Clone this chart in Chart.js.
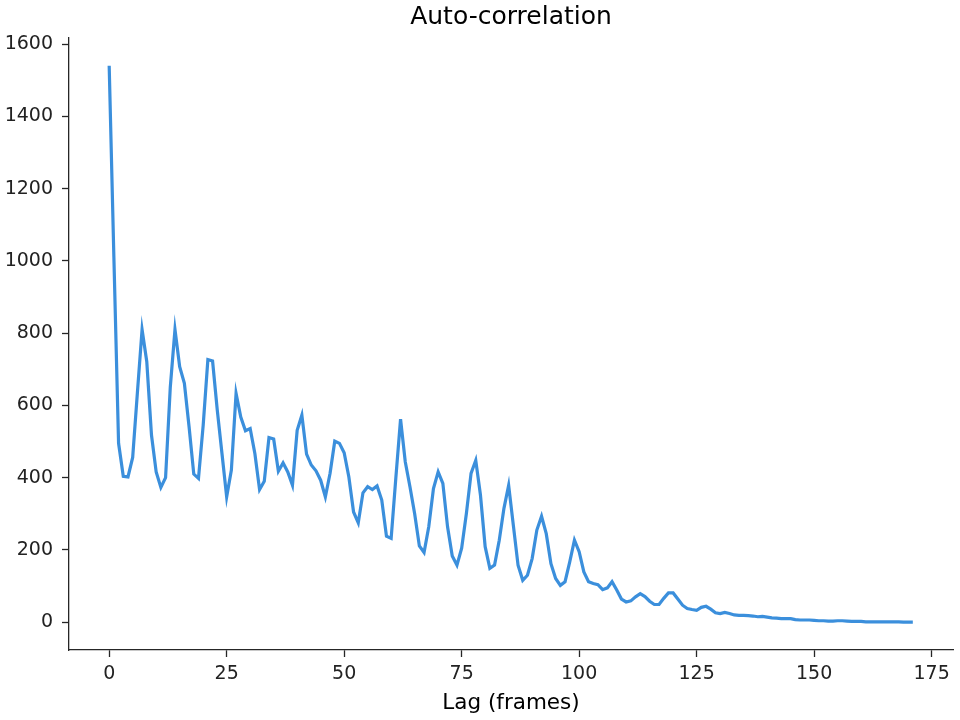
<!DOCTYPE html>
<html>
<head>
<meta charset="utf-8">
<script src="https://cdn.jsdelivr.net/npm/chart.js@4"></script>
<style>
  html, body { margin: 0; padding: 0; background: #fff; }
  #wrap { width: 960px; height: 720px; }
</style>
</head>
<body>
<div id="wrap"><canvas id="acfChart" width="960" height="720"></canvas></div>
<script>
// auto-correlation per lag (lag 0..171)
const acfValues = [
  1540, 1010, 495, 404, 402, 456, 635, 810, 721, 518,
  416, 373, 400, 650, 810, 707, 661, 541, 410, 398,
  545, 727, 723, 587, 467, 347, 421, 633, 568, 530,
  536, 467, 367, 390, 511, 507, 418, 441, 416, 379,
  531, 573, 465, 435, 419, 393, 347, 412, 501, 495,
  469, 402, 305, 275, 358, 375, 367, 377, 338, 238,
  232, 400, 562, 444, 375, 300, 211, 193, 264, 370,
  416, 384, 264, 183, 158, 205, 300, 412, 448, 352,
  209, 149, 158, 227, 315, 379, 268, 158, 116, 130,
  176, 255, 293, 245, 162, 121, 102, 112, 167, 227,
  195, 139, 112, 107, 104, 90, 95, 112, 89, 64,
  56, 59, 70, 79, 71, 58, 49, 49, 66, 81,
  81, 64, 47, 38, 35, 33, 41, 44, 36, 26,
  24, 27, 24, 20, 19, 19, 18, 17, 15, 16,
  14, 12, 11, 10, 10, 10, 7, 6, 6, 6,
  5, 4, 4, 3, 3, 4, 4, 3, 2, 2,
  2, 1, 1, 1, 1, 1, 1, 1, 1, 0,
  0, 0
];
const lags = acfValues.map((v, i) => i);

const xTickValues = [0, 25, 50, 75, 100, 125, 150, 175];
const yTickValues = [0, 200, 400, 600, 800, 1000, 1200, 1400, 1600];

const titleText = "Auto-correlation";
const xLabelText = "Lag (frames)";

const axisColor = "#262626";
const lineColor = "#3b8fdc";
const fontFamily = "'DejaVu Sans', sans-serif";

const points = lags.map((lag, i) => ({ x: lag, y: acfValues[i] }));

// 5% margins like the original
const xSpan = lags[lags.length - 1] - lags[0];
const ySpan = Math.max(...acfValues) - Math.min(...acfValues);

// title centred over the plot area, not the whole canvas
const axesTitle = {
  id: "axesTitle",
  afterDraw(chart) {
    const c = chart.ctx;
    const area = chart.chartArea;
    c.save();
    c.fillStyle = "#000";
    c.font = "25px " + fontFamily;
    c.textAlign = "center";
    c.textBaseline = "middle";
    c.fillText(titleText, (area.left + area.right) / 2, 17);
    c.restore();
  }
};

const ctx = document.getElementById("acfChart").getContext("2d");

new Chart(ctx, {
  type: "line",
  data: {
    datasets: [{
      label: "acf",
      data: points,
      borderColor: lineColor,
      borderWidth: 3.2,
      pointRadius: 0,
      tension: 0,
      fill: false
    }]
  },
  options: {
    responsive: false,
    animation: false,
    layout: { padding: { left: 0, right: 7, top: 38, bottom: 0 } },
    plugins: {
      legend: { display: false },
      tooltip: { enabled: false },
      title: { display: false }
    },
    scales: {
      x: {
        type: "linear",
        min: lags[0] - xSpan * 0.05,
        max: lags[lags.length - 1] + xSpan * 0.05,
        afterBuildTicks: axis => { axis.ticks = xTickValues.map(v => ({ value: v })); },
        afterFit: axis => { axis.height = 70; },
        grid: { drawOnChartArea: false, drawTicks: true, tickLength: 7, tickWidth: 1.3, color: axisColor },
        border: { display: true, color: axisColor, width: 1.3 },
        ticks: {
          color: "#222",
          padding: 6,
          maxRotation: 0,
          font: { family: fontFamily, size: 19 },
          callback: v => String(v)
        },
        title: {
          display: true,
          text: xLabelText,
          color: "#000",
          font: { family: fontFamily, size: 21.5 },
          padding: { top: 2, bottom: 4 }
        }
      },
      y: {
        type: "linear",
        min: Math.min(...acfValues) - ySpan * 0.05,
        max: Math.max(...acfValues) + ySpan * 0.05,
        afterBuildTicks: axis => { axis.ticks = yTickValues.map(v => ({ value: v })); },
        afterFit: axis => { axis.width = 69; },
        grid: { drawOnChartArea: false, drawTicks: true, tickLength: 7, tickWidth: 1.3, color: axisColor },
        border: { display: true, color: axisColor, width: 1.3 },
        ticks: {
          color: "#222",
          padding: 9,
          font: { family: fontFamily, size: 19 },
          callback: v => String(v)
        }
      }
    }
  },
  plugins: [axesTitle]
});
</script>
</body>
</html>
